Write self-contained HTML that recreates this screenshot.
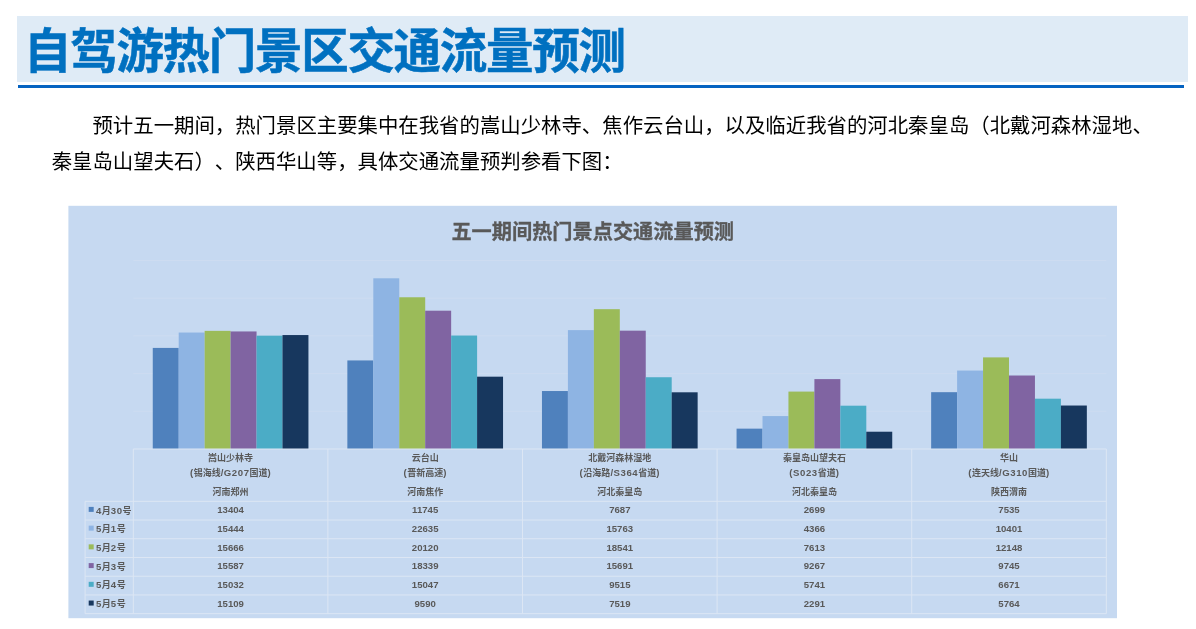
<!DOCTYPE html>
<html lang="zh-CN">
<head>
<meta charset="utf-8">
<title>自驾游热门景区交通流量预测</title>
<style>
html,body{margin:0;padding:0;background:#fff;}
body{position:relative;width:1196px;height:629px;overflow:hidden;font-family:"Liberation Sans","Noto Sans CJK SC",sans-serif;}
.band{position:absolute;left:17px;top:16px;width:1171px;height:66px;background:#DFEBF6;}
.title{position:absolute;left:24px;top:19px;-webkit-text-stroke:0.5px #0070C0;height:66px;line-height:66px;margin:0;font-size:47.5px;font-weight:700;color:#0070C0;white-space:nowrap;letter-spacing:-1.3px;}
.rule{position:absolute;left:18px;top:85px;width:1166px;height:3px;background:#0563C1;}
.para{text-spacing-trim:space-all;position:absolute;left:51.7px;top:107.65px;width:1110px;margin:0;font-size:20.4px;line-height:36.7px;color:#000;text-indent:2em;white-space:nowrap;}
.chart{position:absolute;left:0;top:0;}
.chart text{font-family:"Liberation Sans","Noto Sans CJK SC",sans-serif;fill:#595959;font-weight:700;}
.chart .ct{font-size:20.2px;stroke:#595959;stroke-width:0.3px;}
.chart .t{font-size:9px;}
.chart .n{font-size:9.6px;}
.chart .l{font-size:9px;}
.chart .a{font-size:9.6px;letter-spacing:0.55px;}
</style>
</head>
<body>
<div class="band"></div>
<h1 class="title">自驾游热门景区交通流量预测</h1>
<div class="rule"></div>
<p class="para">预计五一期间，热门景区主要集中在我省的嵩山少林寺、焦作云台山，以及临近我省的河北秦皇岛（北戴河森林湿地、<br>秦皇岛山望夫石）、陕西华山等，具体交通流量预判参看下图：</p>
<svg class="chart" width="1196" height="629" viewBox="0 0 1196 629">
<rect x="68.4" y="205.8" width="1048.6" height="412.4" fill="#C6D9F1"/>
<line x1="133.3" y1="411.29" x2="1106.3" y2="411.29" stroke="#CDDCF1" stroke-width="1"/>
<line x1="133.3" y1="373.59" x2="1106.3" y2="373.59" stroke="#CDDCF1" stroke-width="1"/>
<line x1="133.3" y1="335.88" x2="1106.3" y2="335.88" stroke="#CDDCF1" stroke-width="1"/>
<line x1="133.3" y1="298.17" x2="1106.3" y2="298.17" stroke="#CDDCF1" stroke-width="1"/>
<line x1="133.3" y1="260.46" x2="1106.3" y2="260.46" stroke="#CDDCF1" stroke-width="1"/>
<rect x="152.76" y="347.91" width="25.95" height="101.09" fill="#4F81BD"/>
<rect x="178.71" y="332.53" width="25.95" height="116.47" fill="#8EB4E3"/>
<rect x="204.65" y="330.86" width="25.95" height="118.14" fill="#9BBB59"/>
<rect x="230.6" y="331.45" width="25.95" height="117.55" fill="#8064A2"/>
<rect x="256.55" y="335.64" width="25.95" height="113.36" fill="#4BACC6"/>
<rect x="282.49" y="335.06" width="25.95" height="113.94" fill="#17375E"/>
<rect x="347.36" y="360.43" width="25.95" height="88.57" fill="#4F81BD"/>
<rect x="373.31" y="278.3" width="25.95" height="170.7" fill="#8EB4E3"/>
<rect x="399.25" y="297.27" width="25.95" height="151.73" fill="#9BBB59"/>
<rect x="425.2" y="310.7" width="25.95" height="138.3" fill="#8064A2"/>
<rect x="451.15" y="335.52" width="25.95" height="113.48" fill="#4BACC6"/>
<rect x="477.09" y="376.68" width="25.95" height="72.32" fill="#17375E"/>
<rect x="541.96" y="391.03" width="25.95" height="57.97" fill="#4F81BD"/>
<rect x="567.91" y="330.12" width="25.95" height="118.88" fill="#8EB4E3"/>
<rect x="593.85" y="309.17" width="25.95" height="139.83" fill="#9BBB59"/>
<rect x="619.8" y="330.67" width="25.95" height="118.33" fill="#8064A2"/>
<rect x="645.75" y="377.24" width="25.95" height="71.76" fill="#4BACC6"/>
<rect x="671.69" y="392.3" width="25.95" height="56.7" fill="#17375E"/>
<rect x="736.56" y="428.65" width="25.95" height="20.35" fill="#4F81BD"/>
<rect x="762.51" y="416.07" width="25.95" height="32.93" fill="#8EB4E3"/>
<rect x="788.45" y="391.59" width="25.95" height="57.41" fill="#9BBB59"/>
<rect x="814.4" y="379.11" width="25.95" height="69.89" fill="#8064A2"/>
<rect x="840.35" y="405.7" width="25.95" height="43.3" fill="#4BACC6"/>
<rect x="866.29" y="431.72" width="25.95" height="17.28" fill="#17375E"/>
<rect x="931.16" y="392.18" width="25.95" height="56.82" fill="#4F81BD"/>
<rect x="957.11" y="370.56" width="25.95" height="78.44" fill="#8EB4E3"/>
<rect x="983.05" y="357.39" width="25.95" height="91.61" fill="#9BBB59"/>
<rect x="1009" y="375.51" width="25.95" height="73.49" fill="#8064A2"/>
<rect x="1034.95" y="398.69" width="25.95" height="50.31" fill="#4BACC6"/>
<rect x="1060.89" y="405.53" width="25.95" height="43.47" fill="#17375E"/>
<g stroke="#DCE6F4" stroke-width="1" fill="none">
<line x1="133.3" y1="449" x2="1106.3" y2="449"/>
<line x1="85.1" y1="501.3" x2="1106.3" y2="501.3"/>
<line x1="85.1" y1="520.03" x2="1106.3" y2="520.03"/>
<line x1="85.1" y1="538.76" x2="1106.3" y2="538.76"/>
<line x1="85.1" y1="557.49" x2="1106.3" y2="557.49"/>
<line x1="85.1" y1="576.22" x2="1106.3" y2="576.22"/>
<line x1="85.1" y1="594.95" x2="1106.3" y2="594.95"/>
<line x1="85.1" y1="613.68" x2="1106.3" y2="613.68"/>
<line x1="133.3" y1="449" x2="133.3" y2="613.68"/>
<line x1="327.9" y1="449" x2="327.9" y2="613.68"/>
<line x1="522.5" y1="449" x2="522.5" y2="613.68"/>
<line x1="717.1" y1="449" x2="717.1" y2="613.68"/>
<line x1="911.7" y1="449" x2="911.7" y2="613.68"/>
<line x1="1106.3" y1="449" x2="1106.3" y2="613.68"/>
<line x1="85.1" y1="501.3" x2="85.1" y2="613.68"/>
</g>
<text class="ct" x="592.7" y="238.6" text-anchor="middle">五一期间热门景点交通流量预测</text>
<text class="t" x="230.6" y="461.3" text-anchor="middle">嵩山少林寺</text>
<text class="t" x="230.6" y="476.3" text-anchor="middle"><tspan class="a">(</tspan>锡海线<tspan class="a">/G207</tspan>国道<tspan class="a">)</tspan></text>
<text class="t" x="230.6" y="495.2" text-anchor="middle">河南郑州</text>
<text class="n" x="230.6" y="513.3" text-anchor="middle">13404</text>
<text class="n" x="230.6" y="532.03" text-anchor="middle">15444</text>
<text class="n" x="230.6" y="550.76" text-anchor="middle">15666</text>
<text class="n" x="230.6" y="569.49" text-anchor="middle">15587</text>
<text class="n" x="230.6" y="588.22" text-anchor="middle">15032</text>
<text class="n" x="230.6" y="606.95" text-anchor="middle">15109</text>
<text class="t" x="425.2" y="461.3" text-anchor="middle">云台山</text>
<text class="t" x="425.2" y="476.3" text-anchor="middle"><tspan class="a">(</tspan>晋新高速<tspan class="a">)</tspan></text>
<text class="t" x="425.2" y="495.2" text-anchor="middle">河南焦作</text>
<text class="n" x="425.2" y="513.3" text-anchor="middle">11745</text>
<text class="n" x="425.2" y="532.03" text-anchor="middle">22635</text>
<text class="n" x="425.2" y="550.76" text-anchor="middle">20120</text>
<text class="n" x="425.2" y="569.49" text-anchor="middle">18339</text>
<text class="n" x="425.2" y="588.22" text-anchor="middle">15047</text>
<text class="n" x="425.2" y="606.95" text-anchor="middle">9590</text>
<text class="t" x="619.8" y="461.3" text-anchor="middle">北戴河森林湿地</text>
<text class="t" x="619.8" y="476.3" text-anchor="middle"><tspan class="a">(</tspan>沿海路<tspan class="a">/S364</tspan>省道<tspan class="a">)</tspan></text>
<text class="t" x="619.8" y="495.2" text-anchor="middle">河北秦皇岛</text>
<text class="n" x="619.8" y="513.3" text-anchor="middle">7687</text>
<text class="n" x="619.8" y="532.03" text-anchor="middle">15763</text>
<text class="n" x="619.8" y="550.76" text-anchor="middle">18541</text>
<text class="n" x="619.8" y="569.49" text-anchor="middle">15691</text>
<text class="n" x="619.8" y="588.22" text-anchor="middle">9515</text>
<text class="n" x="619.8" y="606.95" text-anchor="middle">7519</text>
<text class="t" x="814.4" y="461.3" text-anchor="middle">秦皇岛山望夫石</text>
<text class="t" x="814.4" y="476.3" text-anchor="middle"><tspan class="a">(S023</tspan>省道<tspan class="a">)</tspan></text>
<text class="t" x="814.4" y="495.2" text-anchor="middle">河北秦皇岛</text>
<text class="n" x="814.4" y="513.3" text-anchor="middle">2699</text>
<text class="n" x="814.4" y="532.03" text-anchor="middle">4366</text>
<text class="n" x="814.4" y="550.76" text-anchor="middle">7613</text>
<text class="n" x="814.4" y="569.49" text-anchor="middle">9267</text>
<text class="n" x="814.4" y="588.22" text-anchor="middle">5741</text>
<text class="n" x="814.4" y="606.95" text-anchor="middle">2291</text>
<text class="t" x="1009" y="461.3" text-anchor="middle">华山</text>
<text class="t" x="1009" y="476.3" text-anchor="middle"><tspan class="a">(</tspan>连天线<tspan class="a">/G310</tspan>国道<tspan class="a">)</tspan></text>
<text class="t" x="1009" y="495.2" text-anchor="middle">陕西渭南</text>
<text class="n" x="1009" y="513.3" text-anchor="middle">7535</text>
<text class="n" x="1009" y="532.03" text-anchor="middle">10401</text>
<text class="n" x="1009" y="550.76" text-anchor="middle">12148</text>
<text class="n" x="1009" y="569.49" text-anchor="middle">9745</text>
<text class="n" x="1009" y="588.22" text-anchor="middle">6671</text>
<text class="n" x="1009" y="606.95" text-anchor="middle">5764</text>
<rect x="88.7" y="506.9" width="5" height="5" fill="#4F81BD"/>
<text class="l" x="95.9" y="513.5"><tspan class="a">4</tspan>月<tspan class="a">30</tspan>号</text>
<rect x="88.7" y="525.63" width="5" height="5" fill="#8EB4E3"/>
<text class="l" x="95.9" y="532.23"><tspan class="a">5</tspan>月<tspan class="a">1</tspan>号</text>
<rect x="88.7" y="544.36" width="5" height="5" fill="#9BBB59"/>
<text class="l" x="95.9" y="550.96"><tspan class="a">5</tspan>月<tspan class="a">2</tspan>号</text>
<rect x="88.7" y="563.09" width="5" height="5" fill="#8064A2"/>
<text class="l" x="95.9" y="569.69"><tspan class="a">5</tspan>月<tspan class="a">3</tspan>号</text>
<rect x="88.7" y="581.82" width="5" height="5" fill="#4BACC6"/>
<text class="l" x="95.9" y="588.42"><tspan class="a">5</tspan>月<tspan class="a">4</tspan>号</text>
<rect x="88.7" y="600.55" width="5" height="5" fill="#17375E"/>
<text class="l" x="95.9" y="607.15"><tspan class="a">5</tspan>月<tspan class="a">5</tspan>号</text>
</svg>
</body>
</html>
